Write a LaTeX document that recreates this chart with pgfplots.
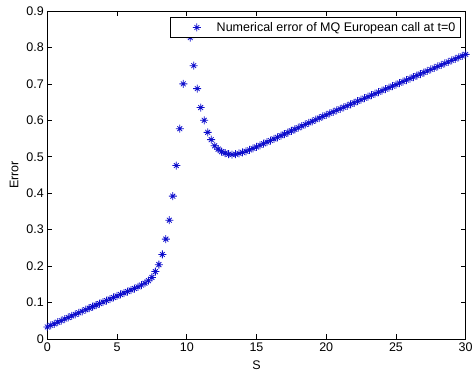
\documentclass[border=0pt]{standalone}
\usepackage{fontspec}
\setmainfont{Liberation Sans}
\usepackage{pgfplots}
\pgfplotsset{compat=1.18}
\definecolor{mblue}{rgb}{0.05,0.05,0.8}
\pgfdeclareplotmark{mstar}{%
  \pgfpathmoveto{\pgfqpoint{0pt}{\pgfplotmarksize}}%
  \pgfpathlineto{\pgfqpoint{0pt}{-\pgfplotmarksize}}%
  \pgfpathmoveto{\pgfqpoint{\pgfplotmarksize}{0pt}}%
  \pgfpathlineto{\pgfqpoint{-\pgfplotmarksize}{0pt}}%
  \pgfpathmoveto{\pgfqpoint{0.6\pgfplotmarksize}{0.6\pgfplotmarksize}}%
  \pgfpathlineto{\pgfqpoint{-0.6\pgfplotmarksize}{-0.6\pgfplotmarksize}}%
  \pgfpathmoveto{\pgfqpoint{0.6\pgfplotmarksize}{-0.6\pgfplotmarksize}}%
  \pgfpathlineto{\pgfqpoint{-0.6\pgfplotmarksize}{0.6\pgfplotmarksize}}%
  \pgfusepathqstroke}
\pgfplotsset{mylegimg/.style={legend image code/.code={\path (0pt,-2pt) (41pt,2pt);\draw[##1] plot coordinates {(23.5pt,0pt)};}}}
\begin{document}
\begin{tikzpicture}
\begin{axis}[
  at={(0pt,0pt)}, anchor=south west,
  width=418.4pt, height=328pt, scale only axis,
  xmin=0, xmax=30, ymin=0, ymax=0.9,
  xtick={0,5,10,15,20,25,30},
  ytick={0,0.1,0.2,0.3,0.4,0.5,0.6,0.7,0.8,0.9},
  yticklabels={0,0.1,0.2,0.3,0.4,0.5,0.6,0.7,0.8,0.9},
  tick align=inside, major tick length=5pt,
  axis line style={line width=0.6pt, black},
  every tick/.style={black, line width=0.6pt},
  ticklabel style={font=\fontsize{12.5}{14}\selectfont},
  /pgf/number format/assume math mode=true,
  xlabel={S}, ylabel={Error},
  label style={font=\fontsize{12.5}{14}\selectfont},
  xlabel style={at={(axis description cs:0.5,-0.079)}, anchor=center},
  ylabel style={at={(axis description cs:-0.079,0.5)}, anchor=center},
  legend style={at={(rel axis cs:0.988,0.982)}, anchor=north east,
    draw=black, line width=0.6pt, fill=white, inner xsep=3pt, inner ysep=3pt,
    font=\fontsize{12.5}{14}\selectfont},
  legend cell align=left,
]
\addplot[only marks, mark=mstar, mark size=4pt, color=mblue, line width=0.8pt, mylegimg] coordinates {
(0,0.033)(0.25,0.0374)(0.5,0.0417)(0.75,0.0461)(1,0.0504)(1.25,0.0547)(1.5,0.059)(1.75,0.0633)
(2,0.0676)(2.25,0.0719)(2.5,0.0761)(2.75,0.0804)(3,0.0846)(3.25,0.0888)(3.5,0.093)(3.75,0.0972)
(4,0.1014)(4.25,0.1056)(4.5,0.1097)(4.75,0.1139)(5,0.118)(5.25,0.1221)(5.5,0.1262)(5.75,0.1303)
(6,0.1344)(6.25,0.1385)(6.5,0.143)(6.75,0.148)(7,0.153)(7.25,0.16)(7.5,0.169)(7.75,0.185)
(8,0.204)(8.25,0.232)(8.5,0.274)(8.75,0.326)(9,0.392)(9.25,0.476)(9.5,0.577)(9.75,0.700)
(10,0.86)(10.25,0.827)(10.5,0.750)(10.75,0.687)(11,0.635)(11.25,0.600)(11.5,0.567)(11.75,0.547)
(12,0.530)(12.25,0.521)(12.5,0.514)(12.75,0.510)(13,0.507)(13.25,0.506)(13.5,0.507)(13.75,0.509)
(14,0.512)(14.25,0.515)(14.5,0.519)(14.75,0.523)(15,0.527)(15.25,0.5314)(15.5,0.5358)(15.75,0.5402)
(16,0.5446)(16.25,0.549)(16.5,0.5534)(16.75,0.5578)(17,0.5622)(17.25,0.5666)(17.5,0.571)(17.75,0.5754)
(18,0.5798)(18.25,0.5842)(18.5,0.5886)(18.75,0.593)(19,0.5974)(19.25,0.6018)(19.5,0.6062)(19.75,0.6106)
(20,0.615)(20.25,0.6192)(20.5,0.6233)(20.75,0.6275)(21,0.6316)(21.25,0.6358)(21.5,0.6399)(21.75,0.6441)
(22,0.6482)(22.25,0.6524)(22.5,0.6565)(22.75,0.6607)(23,0.6648)(23.25,0.669)(23.5,0.6731)(23.75,0.6773)
(24,0.6814)(24.25,0.6856)(24.5,0.6897)(24.75,0.6939)(25,0.698)(25.25,0.7022)(25.5,0.7063)(25.75,0.7105)
(26,0.7146)(26.25,0.7188)(26.5,0.7229)(26.75,0.7271)(27,0.7312)(27.25,0.7354)(27.5,0.7395)(27.75,0.7437)
(28,0.7478)(28.25,0.752)(28.5,0.7561)(28.75,0.7603)(29,0.7644)(29.25,0.7686)(29.5,0.7727)(29.75,0.7769)
(30,0.781)
};
\addlegendentry{Numerical error of MQ European call at t=0}
\end{axis}
\pgfresetboundingbox
\path[use as bounding box] (-47.3pt,-33pt) rectangle (424.7pt,339pt);
\end{tikzpicture}
\end{document}
